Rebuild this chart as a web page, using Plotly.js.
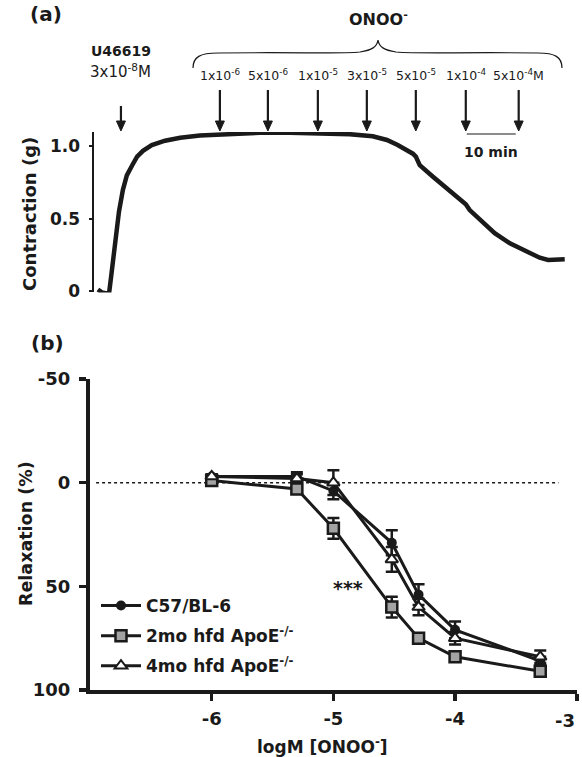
<!DOCTYPE html>
<html>
<head>
<meta charset="utf-8">
<script src="https://cdn.plot.ly/plotly-3.0.1.min.js"></script>
<style>html,body{margin:0;padding:0;background:#fff;}#chart{width:582px;height:757px;}</style>
</head>
<body>
<div id="chart"></div>
<script>
// ---------- Panel (a): isometric tension trace ----------
const traceTime = [0.8,1.6,2.4,3.1,3.5,3.9,4.5,5.1,5.9,6.7,7.8,8.8,10.0,11.8,14.5,17.6,21.6,27.8,33.9,40.0,46.1,52.2,56.9,59.8,62.0,64.1,65.1,65.7,66.5,69.2,71.6,74.7,75.9,76.7,78.8,81.8,84.9,88.0,91.0,92.7,94.1,96.1];
const traceForce = [0.01,-0.01,-0.015,-0.01,0.1,0.22,0.4,0.55,0.7,0.8,0.87,0.93,0.97,1.01,1.04,1.06,1.075,1.085,1.095,1.095,1.09,1.085,1.07,1.045,1.01,0.97,0.95,0.93,0.87,0.79,0.72,0.63,0.60,0.56,0.49,0.40,0.33,0.28,0.23,0.215,0.22,0.22];
const u46619Time = 5.5;
const onooTimes = [25.7,35.5,45.7,55.7,65.7,75.9,86.7];
const onooLabels = ['1x10<sup>-6</sup>','5x10<sup>-6</sup>','1x10<sup>-5</sup>','3x10<sup>-5</sup>','5x10<sup>-5</sup>','1x10<sup>-4</sup>','5x10<sup>-4</sup>M'];
const scaleBarStart = 76.1;
const scaleBarLength = 10;

// ---------- Panel (b): concentration-response ----------
const logConc = [-6,-5.3,-5,-4.52,-4.3,-4,-3.3];
const seriesNames = ['C57/BL-6','2mo hfd ApoE<sup>-/-</sup>','4mo hfd ApoE<sup>-/-</sup>'];
const c57 = [-3,-3,4,29,54,71,86];
const c57Err = [1,2,4,6,5,4,2];
const apo2 = [-1,3,22,60,75,84,91];
const apo2Err = [1,1,5,5,2,2,2];
const apo4 = [-3,-2,0,37,60,75,84];
const apo4Err = [1,2,6,6,4,3,3];
const xTickVals = [-6, -5, -4, -3];
const xTickText = ['-6', '-5', '-4', '-3'];
const yTickVals = [-50, 0, 50, 100];
const yTickText = ['-50', '0', '50', '100'];

const W = 582, H = 757;
const px = x => x / W;
const py = y => 1 - y / H;
const FONT = '"DejaVu Sans", Verdana, sans-serif';
const INK = '#1a1a1a';
const MIN_PER_PX = 1 / 4.9;

const traces = [
  {x: traceTime, y: traceForce, xaxis: 'x', yaxis: 'y', mode: 'lines', showlegend: false,
   line: {color: INK, width: 4.5}},
  {x: logConc, y: c57, xaxis: 'x2', yaxis: 'y2', name: seriesNames[0], legendgroup: 'a',
   mode: 'lines+markers', line: {color: INK, width: 3},
   marker: {symbol: 'circle', size: 10, color: INK},
   error_y: {type: 'data', array: c57Err, color: INK, thickness: 2.5, width: 6}},
  {x: logConc, y: apo2, xaxis: 'x2', yaxis: 'y2', name: seriesNames[1], legendgroup: 'b',
   mode: 'lines+markers', line: {color: INK, width: 3},
   marker: {symbol: 'square', size: 11, color: '#a3a3a3', line: {color: INK, width: 2.5}},
   error_y: {type: 'data', array: apo2Err, color: INK, thickness: 2.5, width: 6}},
  {x: logConc, y: apo4, xaxis: 'x2', yaxis: 'y2', name: seriesNames[2], legendgroup: 'c',
   mode: 'lines+markers', line: {color: INK, width: 3},
   marker: {symbol: 'triangle-up', size: 11, color: '#ffffff', line: {color: INK, width: 2}},
   error_y: {type: 'data', array: apo4Err, color: INK, thickness: 2.5, width: 6}}
];

const annotations = [];
const shapes = [];
function label(opts) {
  annotations.push(Object.assign({xanchor: 'center', yanchor: 'middle', showarrow: false}, opts));
}
function bold(size) { return {family: FONT, size: size, weight: 'bold', color: INK}; }

// Panel labels
label({xref:'paper', yref:'paper', x: px(46), y: py(14), text:'(a)', font: bold(20)});
label({xref:'paper', yref:'paper', x: px(47), y: py(343), text:'(b)', font: bold(20)});

// ONOO- header and brace
label({xref:'paper', yref:'paper', x: px(378), y: py(19), text:'ONOO<sup>-</sup>', font: bold(16)});
const bp = (x, y) => px(x) + ',' + py(y);
shapes.push({type:'path', xref:'paper', yref:'paper',
  path: 'M' + bp(193,68) + ' C' + bp(193,57) + ' ' + bp(200,53) + ' ' + bp(218,53) +
        ' C' + bp(300,52) + ' ' + bp(340,54) + ' ' + bp(360,52) +
        ' C' + bp(372,50) + ' ' + bp(377,47) + ' ' + bp(378,40) +
        ' C' + bp(379,47) + ' ' + bp(384,50) + ' ' + bp(396,52) +
        ' C' + bp(420,54) + ' ' + bp(460,52) + ' ' + bp(538,53) +
        ' C' + bp(555,53) + ' ' + bp(562,57) + ' ' + bp(562,68),
  line:{color:INK, width:1.2}});

// arrows drawn as shaft + filled head
function arrow(t, yTop) {
  const hw = 4.5 * MIN_PER_PX;
  shapes.push({type:'line', xref:'x', yref:'paper', x0: t, x1: t, y0: py(yTop), y1: py(124),
    line:{color:INK, width:2.2}});
  shapes.push({type:'path', xref:'x', yref:'paper', fillcolor: INK, line:{color:INK, width:1},
    path: 'M' + (t - hw) + ',' + py(121) + ' L' + (t + hw) + ',' + py(121) + ' L' + t + ',' + py(131) + ' Z'});
}

// U46619 labels and arrow
label({xref:'x', yref:'paper', x: u46619Time, y: py(51), text:'U46619', font: bold(14)});
label({xref:'x', yref:'paper', x: u46619Time, y: py(71), text:'3x10<sup>-8</sup>M',
  font:{family:FONT, size:15, color:INK}});
arrow(u46619Time, 106);

// ONOO- additions
onooTimes.forEach((t, i) => {
  label({xref:'x', yref:'paper', x: t, y: py(75), text: onooLabels[i], font:{family:FONT, size:12.5, color:INK}});
  arrow(t, 90);
});

// 10 min scale bar
shapes.push({type:'line', xref:'x', yref:'paper', x0: scaleBarStart, x1: scaleBarStart + scaleBarLength,
  y0: py(134), y1: py(134), line:{color:INK, width:1.2}});
label({xref:'x', yref:'paper', x: scaleBarStart + scaleBarLength/2, y: py(152), text:'10 min', font: bold(14)});

// Axis titles
label({xref:'paper', yref:'paper', x: px(29), y: py(214), text:'Contraction (g)', textangle:-90, font: bold(18)});
label({xref:'paper', yref:'paper', x: px(26), y: py(534), text:'Relaxation (%)', textangle:-90, font: bold(17.5)});
label({xref:'paper', yref:'paper', x: px(322), y: py(746), text:'logM [ONOO<sup>-</sup>]', font: bold(17)});

// last x tick label sits flush against the right edge, drawn right-aligned at its tick
const lastTick = xTickVals.length - 1;
label({xref:'x2', yref:'paper', x: xTickVals[lastTick], xanchor: 'right', y: py(720),
  text: xTickText[lastTick], font: bold(18)});
const axisTickText = xTickText.map((t, i) => i === lastTick ? '' : t);

// significance marker
label({xref:'x2', yref:'y2', x: -4.88, y: 51, text:'***', font: bold(19)});

// dotted zero line
shapes.push({type:'line', xref:'x2', yref:'y2', x0:-6.95, x1:-3.15, y0:0, y1:0, layer:'below',
  line:{color:INK, width:1.5, dash:'dot'}});

const layout = {
  width: W, height: H,
  margin: {l:0, r:0, t:0, b:0},
  paper_bgcolor: '#ffffff', plot_bgcolor: '#ffffff',
  font: {family: FONT, color: INK},
  xaxis: {domain: [px(94), px(576)], range: [0, 98.4], visible: false, fixedrange: true},
  yaxis: {domain: [py(292.4), py(132)], range: [-0.01, 1.1], anchor: 'x',
    showline: true, linecolor: INK, linewidth: 2.5, showgrid: false, zeroline: false,
    ticks: 'outside', ticklen: 3, tickwidth: 2, tickcolor: INK, ticklabelstandoff: 5,
    tickvals: [0, 0.5, 1.0], ticktext: ['0', '0.5', '1.0'],
    tickfont: bold(17)},
  xaxis2: {domain: [px(90), px(577)], range: [-7, -2.998], anchor: 'y2',
    showline: true, linecolor: INK, linewidth: 4, showgrid: false, zeroline: false,
    ticks: 'outside', ticklen: 7, tickwidth: 3.5, tickcolor: INK, ticklabelstandoff: 2,
    tickvals: xTickVals, ticktext: axisTickText,
    tickfont: bold(18)},
  yaxis2: {domain: [py(690), py(379)], range: [100, -50], anchor: 'x2',
    showline: true, linecolor: INK, linewidth: 4, showgrid: false, zeroline: false,
    ticks: 'outside', ticklen: 7, tickwidth: 3.5, tickcolor: INK, ticklabelstandoff: 5,
    tickvals: yTickVals, ticktext: yTickText,
    tickfont: bold(18)},
  showlegend: true,
  legend: {x: px(96), y: py(588), xanchor: 'left', yanchor: 'top', bgcolor: 'rgba(0,0,0,0)',
    traceorder: 'grouped', tracegroupgap: 5, itemwidth: 40,
    font: bold(17)},
  annotations: annotations,
  shapes: shapes
};

Plotly.newPlot('chart', traces, layout, {staticPlot: true, displayModeBar: false});
</script>
</body>
</html>
